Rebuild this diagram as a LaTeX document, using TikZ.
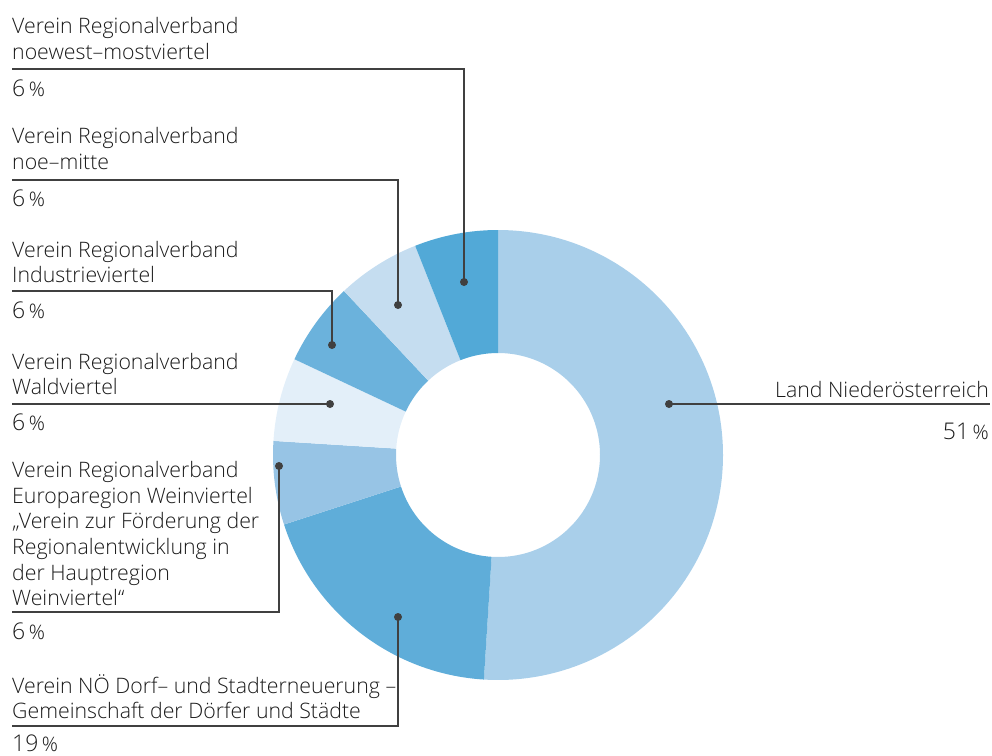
\documentclass[tikz,border=0pt]{standalone}
\usepackage{fontspec}
\IfFontExistsTF{Open Sans Light}{\setmainfont{Open Sans Light}}{\setmainfont{Open Sans}}
\definecolor{cLand}{HTML}{A9CFEA}
\definecolor{cDorf}{HTML}{5FADD9}
\definecolor{cWein}{HTML}{97C4E5}
\definecolor{cWald}{HTML}{E3EFF9}
\definecolor{cInd}{HTML}{6BB2DC}
\definecolor{cMitte}{HTML}{C5DDF0}
\definecolor{cWest}{HTML}{52A9D7}
\definecolor{cLine}{HTML}{404040}
\definecolor{cText}{HTML}{1A1A1A}
\tikzset{
  lbl/.style={inner sep=0pt, align=left, text=cText, font=\fontsize{21.3}{25.6}\selectfont},
  pct/.style={inner sep=0pt, text=cText},
  dot/.style={circle, fill=cLine, inner sep=0pt, minimum size=8pt},
  conn/.style={draw=cLine, line width=1.5pt},
}
\newcommand{\pctxt}[1]{{\fontsize{23}{23}\selectfont #1}\hspace{3.5pt}{\fontsize{20}{20}\selectfont\%}}
\newcommand{\seg}[3]{\fill[#1] (#2:225pt) arc[start angle=#2, end angle=#3, radius=225pt] -- (#3:102pt) arc[start angle=#3, end angle=#2, radius=102pt] -- cycle;}
\begin{document}
\begin{tikzpicture}[x=1pt,y=-1pt]
\useasboundingbox (0,0) rectangle (992,755);
\begin{scope}[shift={(498,455)},x=1pt,y=1pt]
\seg{cLand}{90}{-93.6}
\seg{cDorf}{-93.6}{-162}
\seg{cWein}{-162}{-183.6}
\seg{cWald}{-183.6}{-205.2}
\seg{cInd}{-205.2}{-226.8}
\seg{cMitte}{-226.8}{-248.4}
\seg{cWest}{-248.4}{-270}
\end{scope}
% dots
\node[dot] (dWest) at (464,282) {};
\node[dot] (dMitte) at (398,305) {};
\node[dot] (dInd) at (332,345) {};
\node[dot] (dWald) at (330,404) {};
\node[dot] (dWein) at (279,466) {};
\node[dot] (dDorf) at (398,617) {};
\node[dot] (dLand) at (669,404) {};
% rule ends
\coordinate (eWest) at (12,69);
\coordinate (eMitte) at (12,180);
\coordinate (eInd) at (12,291);
\coordinate (eWald) at (12,404);
\coordinate (eWein) at (12,612);
\coordinate (eDorf) at (12,726);
\coordinate (eLand) at (990,404);
\draw[conn] (eWest) -| (dWest.center);
\draw[conn] (eMitte) -| (dMitte.center);
\draw[conn] (eInd) -| (dInd.center);
\draw[conn] (eWald) -- (dWald.center);
\draw[conn] (eWein) -| (dWein.center);
\draw[conn] (eDorf) -| (dDorf.center);
\draw[conn] (dLand.center) -- (eLand);
% labels
\node[lbl, anchor=base west] (tWest) at (12,33) {Verein Regionalverband};
\node[lbl, anchor=base west] (tWest2) at (12,59) {noewest–mostviertel};
\node[pct, anchor=base west] (pWest) at (12,96) {\pctxt{6}};
\node[lbl, anchor=base west] (tMitte) at (12,143) {Verein Regionalverband};
\node[lbl, anchor=base west] (tMitte2) at (12,169) {noe–mitte};
\node[pct, anchor=base west] (pMitte) at (12,206) {\pctxt{6}};
\node[lbl, anchor=base west] (tInd) at (12,257) {Verein Regionalverband};
\node[lbl, anchor=base west] (tInd2) at (12,282) {Industrieviertel};
\node[pct, anchor=base west] (pInd) at (12,318) {\pctxt{6}};
\node[lbl, anchor=base west] (tWald) at (12,369) {Verein Regionalverband};
\node[lbl, anchor=base west] (tWald2) at (12,394) {Waldviertel};
\node[pct, anchor=base west] (pWald) at (12,430) {\pctxt{6}};
\node[lbl, anchor=base west] (tWein1) at (12,477) {Verein Regionalverband};
\node[lbl, anchor=base west] (tWein2) at (12,503) {Europaregion Weinviertel};
\node[lbl, anchor=base west] (tWein3) at (12,528) {„Verein zur Förderung der};
\node[lbl, anchor=base west] (tWein4) at (12,554) {Regionalentwicklung in};
\node[lbl, anchor=base west] (tWein5) at (12,580) {der Hauptregion};
\node[lbl, anchor=base west] (tWein6) at (12,605) {Weinviertel“};
\node[pct, anchor=base west] (pWein) at (12,639) {\pctxt{6}};
\node[lbl, anchor=base west] (tDorf1) at (12,693) {Verein NÖ Dorf– und Stadterneuerung –};
\node[lbl, anchor=base west] (tDorf2) at (12,718) {Gemeinschaft der Dörfer und Städte};
\node[pct, anchor=base west] (pDorf) at (12,751) {\pctxt{19}};
\node[lbl, anchor=base east] (tLand) at (989,397) {Land Niederösterreich};
\node[pct, anchor=base east] (pLand) at (989,439) {\pctxt{51}};
\end{tikzpicture}
\end{document}
